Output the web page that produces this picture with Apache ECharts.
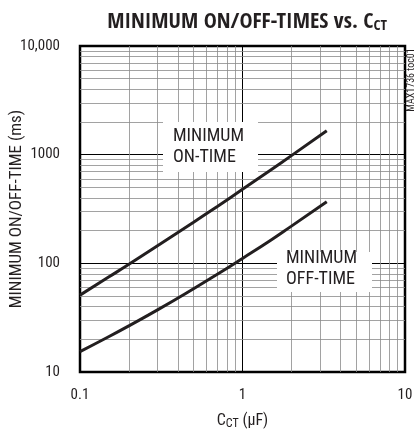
<!DOCTYPE html>
<html><head><meta charset="utf-8">
<script src="https://cdn.jsdelivr.net/npm/echarts@6/dist/echarts.min.js"></script>
<style>html,body{margin:0;padding:0;background:#fff}#c{width:417px;height:435px}</style>
</head><body><div id="c"></div>
<script>
// ---- data ----
const capacitance = [0.1, 0.15, 0.2, 0.3, 0.5, 0.7, 1, 1.5, 2, 3.3];     // C_CT (µF)
const minOnTime  = [51, 74.7, 98, 145, 239, 334, 480, 727, 980, 1660];   // ms
const minOffTime = [15.4, 21.1, 26.6, 37.3, 58.4, 79.3, 111, 164, 220, 369]; // ms
const xTickLabels = ['0.1', '1', '10'];
const yTickLabels = ['10', '100', '1000', '10,000'];
const xMinorGrid = [0.2,0.3,0.4,0.5,0.6,0.7,0.8,0.9,2,3,4,5,6,7,8,9];
const yMinorGrid = [20,30,40,50,60,70,80,90,200,300,400,500,600,700,800,900,2000,3000,4000,5000,6000,7000,8000,9000];

const NARROW = '"Roboto Condensed","DejaVu Sans Condensed",sans-serif';
const HEAVY = '"Open Sans Condensed","Roboto Condensed",sans-serif';
const INK = '#231f20';

const chart = echarts.init(document.getElementById('c'), null, {renderer: 'canvas'});

function zip(xs, ys) { return xs.map((x, i) => [x, ys[i]]); }

const option = {
  animation: false,
  backgroundColor: '#fff',
  title: {
    text: '{a|MINIMUM ON/OFF-TIMES vs. C}{s|CT}',
    left: 242, top: 5, textAlign: 'center',
    textStyle: {
      rich: {
        a: {fontFamily: HEAVY, fontWeight: 'bold', fontSize: 22, color: INK, lineHeight: 24},
        s: {fontFamily: HEAVY, fontWeight: 'bold', fontSize: 15, color: INK, lineHeight: 16, verticalAlign: 'bottom'}
      }
    }
  },
  grid: {left: 80, right: 12, top: 46, bottom: 63, show: true, borderColor: '#000', borderWidth: 2.5,
         backgroundColor: 'transparent', containLabel: false, outerBoundsMode: 'none'},
  xAxis: {
    type: 'log', logBase: 10, min: 0.1, max: 10,
    name: '{c|C}{s|CT}{c| (µF)}', nameLocation: 'middle', nameGap: 40, nameMoveOverlap: false,
    nameTextStyle: {rich: {
      c: {fontFamily: NARROW, fontSize: 16, color: INK, lineHeight: 18},
      s: {fontFamily: NARROW, fontSize: 12, color: INK, lineHeight: 11, verticalAlign: 'bottom'}
    }},
    axisLine: {show: false}, axisTick: {show: false},
    axisLabel: {fontFamily: NARROW, fontSize: 15, color: INK, margin: 16,
      formatter: v => { const i = Math.round(Math.log10(v)) + 1; return xTickLabels[i] !== undefined ? xTickLabels[i] : ''; }},
    splitLine: {show: true, lineStyle: {color: '#000', width: 1}},
    minorTick: {show: false}, minorSplitLine: {show: false}
  },
  yAxis: {
    type: 'log', logBase: 10, min: 10, max: 10000,
    name: 'MINIMUM ON/OFF-TIME (ms)', nameLocation: 'middle', nameGap: 55, nameMoveOverlap: false,
    nameTextStyle: {fontFamily: NARROW, fontSize: 17, color: INK},
    axisLine: {show: false}, axisTick: {show: false},
    axisLabel: {fontFamily: NARROW, fontSize: 15, color: INK, margin: 20,
      formatter: v => { const i = Math.round(Math.log10(v)) - 1; return yTickLabels[i] !== undefined ? yTickLabels[i] : ''; }},
    splitLine: {show: true, lineStyle: {color: '#000', width: 1}}
  },
  series: [
    {
      name: 'minorGrid', type: 'line', data: [], silent: true, z: 1,
      markLine: {
        silent: true, symbol: 'none', animation: false,
        label: {show: false},
        lineStyle: {color: '#8a8a8a', width: 0.8, type: 'solid'},
        emphasis: {disabled: true},
        data: xMinorGrid.map(v => ({xAxis: v})).concat(yMinorGrid.map(v => ({yAxis: v})))
      }
    },
    {
      name: 'MINIMUM ON-TIME', type: 'line', data: zip(capacitance, minOnTime),
      smooth: true, showSymbol: false, symbol: 'none', z: 5,
      lineStyle: {color: INK, width: 3}
    },
    {
      name: 'MINIMUM OFF-TIME', type: 'line', data: zip(capacitance, minOffTime),
      smooth: true, showSymbol: false, symbol: 'none', z: 5,
      lineStyle: {color: INK, width: 3}
    }
  ],
  graphic: [
    {type: 'rect', z: 50, shape: {x: 163, y: 122, width: 95, height: 50}, style: {fill: '#fff'}},
    {type: 'text', z: 51, x: 173, y: 126, style: {text: 'MINIMUM\nON-TIME', font: '18px ' + NARROW, fill: INK, lineHeight: 21}},
    {type: 'rect', z: 50, shape: {x: 277, y: 252, width: 95, height: 40}, style: {fill: '#fff'}},
    {type: 'text', z: 51, x: 286, y: 248, style: {text: 'MINIMUM\nOFF-TIME', font: '18px ' + NARROW, fill: INK, lineHeight: 21}},
    {type: 'text', z: 51, x: 411, y: 80, rotation: Math.PI / 2, style: {text: 'MAX1736 toc01', font: '10px ' + NARROW, fill: INK, align: 'center', verticalAlign: 'middle'}}
  ]
};
chart.setOption(option);
</script>
</body></html>
